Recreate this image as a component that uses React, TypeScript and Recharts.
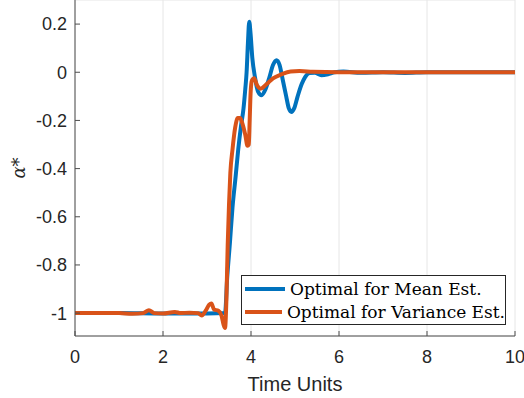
import React from "react";
import { LineChart, Line, XAxis, YAxis, CartesianGrid } from "recharts";

const seriesNames = ["Optimal for Mean Est.", "Optimal for Variance Est."];
const seriesColors = ["#0072BD", "#D95319"];

const xTicks = [0, 2, 4, 6, 8, 10];
const yTicks = [-1, -0.8, -0.6, -0.4, -0.2, 0, 0.2];

const meanTime = [
  0, 1, 2, 3, 3.41, 3.46, 3.52, 3.58, 3.65, 3.71, 3.77, 3.83, 3.87, 3.9, 3.93,
  3.96, 3.99, 4.03, 4.09, 4.16, 4.24, 4.33, 4.42, 4.5, 4.58, 4.65, 4.72, 4.8,
  4.86, 4.92, 4.98, 5.06, 5.15, 5.23, 5.33, 5.45, 5.6, 5.75, 5.9, 6.1, 6.5, 7,
  7.5, 8, 9, 10,
];
const meanValue = [
  -1, -1, -1.002, -1.002, -1, -0.85, -0.71, -0.56, -0.434, -0.32, -0.227, -0.15,
  -0.07, 0.0, 0.12, 0.21, 0.16, 0.06, -0.02, -0.08, -0.095, -0.07, -0.02, 0.03,
  0.05, 0.03, -0.03, -0.1, -0.15, -0.165, -0.15, -0.1, -0.05, -0.02, -0.003,
  -0.002, -0.012, -0.008, 0.0, 0.003, -0.002, 0, -0.003, 0, 0, 0,
];

const varTime = [
  0, 1, 1.3, 1.55, 1.68, 1.8, 2.0, 2.27, 2.4, 2.6, 2.8, 2.88, 2.97, 3.05, 3.1,
  3.16, 3.26, 3.33, 3.38, 3.41, 3.44, 3.47, 3.5, 3.53, 3.58, 3.64, 3.7, 3.75,
  3.8, 3.87, 3.92, 3.95, 3.97, 3.99, 4.02, 4.07, 4.14, 4.22, 4.35, 4.5, 4.7,
  4.9, 5.1, 5.4, 6, 10,
];
const varValue = [
  -1, -1, -1.003, -1, -0.988, -1, -1.002, -0.995, -1, -0.998, -1, -1.01, -0.99,
  -0.965, -0.96, -0.985, -0.99, -1.01, -1.05, -1.062, -0.95, -0.72, -0.55,
  -0.42, -0.32, -0.23, -0.19, -0.19, -0.21, -0.26, -0.305, -0.3, -0.2, -0.09,
  -0.035, -0.025, -0.055, -0.068, -0.05, -0.025, -0.008, 0.003, 0.005, 0.002,
  0, 0,
];

const meanData = meanTime.map((t, i) => ({ t, v: meanValue[i] }));
const varData = varTime.map((t, i) => ({ t, v: varValue[i] }));

const W = 524;
const H = 398;
const tickFont = { fontFamily: "Liberation Sans, Arial, sans-serif", fontSize: 18, fill: "#262626" };
const axisColor = "#4d4d4d";

export default function App() {
  return (
    <div style={{ position: "absolute", left: 0, top: 0, width: W, height: H, background: "#fff" }}>
      <LineChart width={W} height={H} margin={{ top: 0, right: 9, bottom: 0, left: 0 }}>
        <CartesianGrid stroke="#e6e6e6" strokeWidth={1} />
        <XAxis
          dataKey="t"
          type="number"
          domain={[0, 10]}
          ticks={xTicks}
          allowDataOverflow
          height={62}
          tickSize={-5}
          tickMargin={19}
          tick={tickFont}
          stroke={axisColor}
          tickLine={{ stroke: axisColor }}
          label={{
            value: "Time Units",
            position: "insideBottom",
            offset: 7,
            style: { fontFamily: "Liberation Sans, Arial, sans-serif", fontSize: 20, fill: "#262626", textAnchor: "middle" },
          }}
        />
        <YAxis
          yAxisId="l"
          type="number"
          domain={[-1.095, 0.3]}
          ticks={yTicks}
          allowDataOverflow
          width={75}
          tickSize={-5}
          tickMargin={13}
          tick={tickFont}
          tickFormatter={(v: number) => String(Math.round(v * 10) / 10)}
          stroke={axisColor}
          tickLine={{ stroke: axisColor }}
          label={{
            value: "α*",
            angle: -90,
            position: "insideLeft",
            offset: 19,
            style: { fontFamily: "DejaVu Serif, serif", fontStyle: "italic", fontSize: 18, fill: "#262626", textAnchor: "middle" },
          }}
        />
        <YAxis
          yAxisId="r"
          orientation="right"
          type="number"
          domain={[-1.095, 0.3]}
          ticks={yTicks}
          allowDataOverflow
          width={0}
          tickSize={-5}
          tick={false}
          stroke={axisColor}
          tickLine={{ stroke: axisColor }}
        />
        <Line
          yAxisId="l"
          data={meanData}
          dataKey="v"
          name={seriesNames[0]}
          type="monotone"
          stroke={seriesColors[0]}
          strokeWidth={4}
          dot={false}
          isAnimationActive={false}
          strokeLinejoin="round"
        />
        <Line
          yAxisId="l"
          data={varData}
          dataKey="v"
          name={seriesNames[1]}
          type="monotone"
          stroke={seriesColors[1]}
          strokeWidth={4}
          dot={false}
          isAnimationActive={false}
          strokeLinejoin="round"
        />
      </LineChart>
      <div
        style={{
          position: "absolute",
          left: 241,
          top: 275,
          width: 265,
          height: 50,
          border: "1px solid #262626",
          background: "#fff",
          boxSizing: "border-box",
          fontFamily: "DejaVu Serif, serif",
          fontSize: 17,
          color: "#000",
          paddingTop: 1,
        }}
      >
        {seriesNames.map((n, i) => (
          <div key={n} style={{ display: "flex", alignItems: "center", height: 23.5, whiteSpace: "nowrap" }}>
            <span style={{ display: "inline-block", width: 40, height: 4, background: seriesColors[i], marginLeft: 3, marginRight: 5 }} />
            <span>{n}</span>
          </div>
        ))}
      </div>
    </div>
  );
}
